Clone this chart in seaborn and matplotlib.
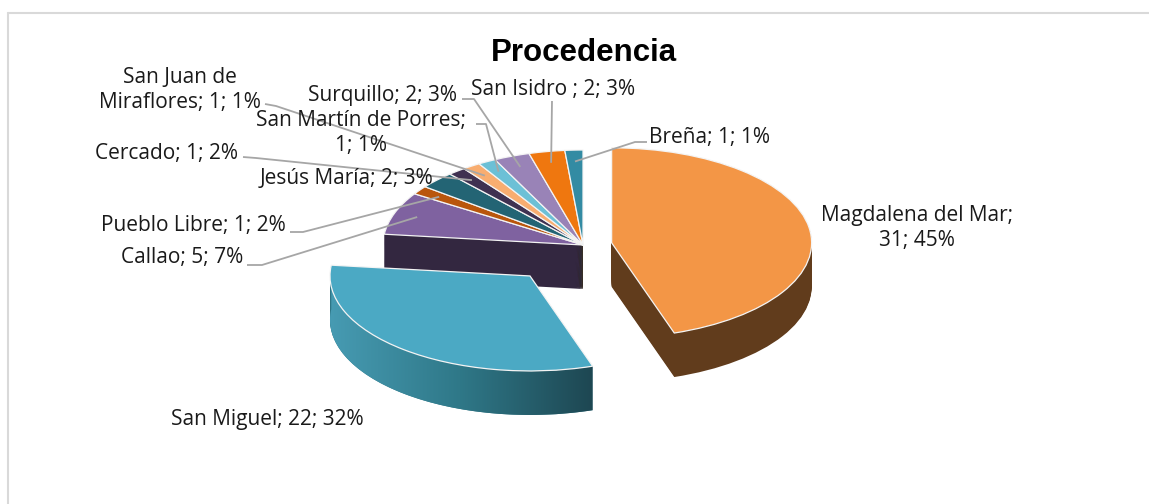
import numpy as np
import matplotlib
matplotlib.use("Agg")
import matplotlib.pyplot as plt
import seaborn as sns
from matplotlib.lines import Line2D
from matplotlib.patches import Polygon
from matplotlib.colors import to_rgb

# data
categories = ["Magdalena del Mar", "San Miguel", "Callao", "Pueblo Libre", "Jesús María",
              "Cercado", "San Juan de\nMiraflores", "San Martín de Porres", "Surquillo",
              "San Isidro ", "Breña"]
values = [31, 22, 5, 1, 2, 1, 1, 1, 2, 2, 1]
percents = ["45%", "32%", "7%", "2%", "3%", "2%", "1%", "1%", "3%", "3%", "1%"]
top_colors = ["#F39646", "#4BA9C4", "#7F62A0", "#B9560C", "#236474", "#3F3151",
              "#F8AD70", "#6CC0D6", "#9983B7", "#EF770F", "#338BA3"]
explode = [0.145, 0.42, 0, 0, 0, 0, 0, 0, 0, 0, 0]
title = "Procedencia"

sns.set_theme(style="white")
plt.rcParams["font.family"] = ["Open Sans", "DejaVu Sans"]

W, H = 1149, 504
fig = plt.figure(figsize=(W / 100, H / 100), dpi=100)
ax = fig.add_axes([0, 0, 1, 1])

# pixel -> data (radius 1 = 200 px wide, 95 px tall)
CX, CY, RX, RY = 583, 245, 200, 95


def X(px):
    return (px - CX) / RX


def Y(py):
    return (CY - py) / RY


side_colors = [tuple(c * 0.4 for c in to_rgb(col)) for col in top_colors]
side_colors[1] = "#2E7686"
side_cmap = sns.blend_palette(["#489DB5", "#2F7888", "#1D4550"], as_cmap=True)

# extruded sides: stacked copies of the pie, deepest first
depth = 44 / RY
offsets = np.arange(depth, 0, -0.01)
for k, off in enumerate(offsets):
    ax.pie(values, colors=side_colors, startangle=90, counterclock=False,
           explode=explode, radius=1, center=(0, -off),
           wedgeprops=dict(linewidth=0, zorder=1 + k * 0.001))

wedges, _ = ax.pie(values, colors=top_colors, startangle=90, counterclock=False,
                   explode=explode, radius=1, center=(0, 0),
                   wedgeprops=dict(linewidth=0.9, edgecolor="#F4F4F4", zorder=3))

# shaded outer wall of San Miguel
w = wedges[1]
cx, cy = w.center
th = np.deg2rad(np.linspace(w.theta1, w.theta2, 200))
rim = np.column_stack([cx + np.cos(th), cy + np.sin(th)])
wall = Polygon(np.vstack([rim, (rim - [0, depth])[::-1]]), closed=True,
               transform=ax.transData)
grad = np.linspace(0, 1, 256).reshape(1, -1)
img = ax.imshow(grad, cmap=side_cmap, extent=(X(322), X(598), Y(450), Y(250)),
                aspect="auto", interpolation="bilinear", zorder=2)
img.set_clip_path(wall)

ax.set_aspect("auto")
ax.set_xlim(X(0), X(W))
ax.set_ylim(Y(H), Y(0))
ax.axis("off")

# labels
two_line = {"San Martín de Porres", "Magdalena del Mar"}
label_pos = [(917, 228), (267, 420), (182, 258), (193, 226), (347, 178), (167, 154),
             (180, 90), (361, 133), (383, 96), (553, 90), (710, 137)]
for name, v, p, (lx, ly) in zip(categories, values, percents, label_pos):
    sep = ";\n" if name in two_line else "; "
    txt = f"{name}{sep}{v}; {p}"
    ax.text(X(lx), Y(ly), txt, ha="center", va="center", ma="center",
            fontsize=15, color="#1A1A1A", linespacing=1.25, zorder=5)

# leader lines: label side points, then into the slice
leaders = {2: [(247, 265), (262, 265)], 3: [(290, 232), (303, 232)],
           5: [(243, 157), (256, 158)], 6: [(265, 104), (276, 106)],
           7: [(476, 124), (486, 124)], 8: [(462, 99), (474, 99)],
           9: [(552, 101)], 10: [(647, 142), (635, 142)]}
for i, pts in leaders.items():
    wi = wedges[i]
    t = np.deg2rad((wi.theta1 + wi.theta2) / 2)
    ox, oy = wi.center
    ex, ey = ox + 0.88 * np.cos(t), oy + 0.88 * np.sin(t)
    xs = [X(px) for px, py in pts] + [ex]
    ys = [Y(py) for px, py in pts] + [ey]
    ax.plot(xs, ys, color="#A6A6A6", lw=1.3, zorder=4, solid_capstyle="butt")

fig.text(584 / W, 1 - 53 / H, title, ha="center", va="center", fontsize=22.5,
         fontweight="bold", family="Liberation Sans", color="black")

# chart area border
fig.add_artist(Line2D([8 / W, 1], [1 - 13 / H, 1 - 13 / H], transform=fig.transFigure,
                      color="#D9D9D9", lw=1.5))
fig.add_artist(Line2D([8 / W, 8 / W], [0, 1 - 13 / H], transform=fig.transFigure,
                      color="#D9D9D9", lw=1.5))

fig.savefig("out.png", dpi=100)
